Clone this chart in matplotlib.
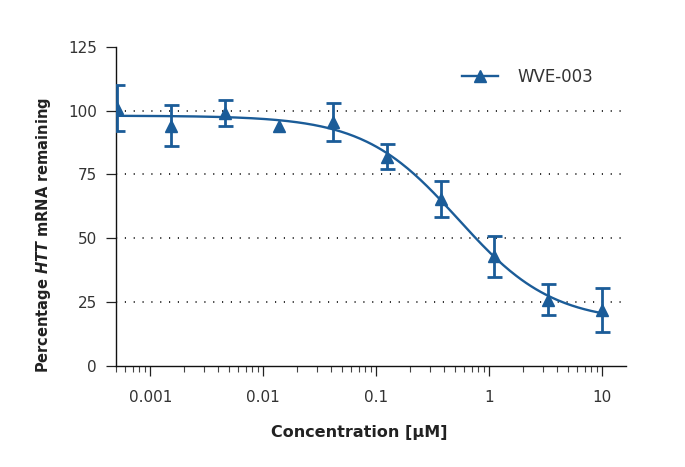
import numpy as np
import matplotlib
matplotlib.use("Agg")
import matplotlib.pyplot as plt
from matplotlib.lines import Line2D

plt.rcParams['font.family'] = ['DejaVu Sans']
plt.rcParams['mathtext.fontset'] = 'custom'
plt.rcParams['mathtext.it'] = 'DejaVu Sans:bold:italic'
plt.rcParams['mathtext.rm'] = 'DejaVu Sans:bold'
plt.rcParams['mathtext.bf'] = 'DejaVu Sans:bold'

# ---- data (3-fold dilution series, µM) ----
concentration = [10 / 3 ** k for k in range(10)][::-1]
pct_remaining = [101, 94, 99, 94, 95.5, 82, 65.5, 43, 26, 22]
err = [9, 8, 5, np.nan, 7.5, 5, 7, 8, 6, 8.5]

# 4-parameter logistic fit
fit_top = 98.0
fit_bottom = 17.0
fit_ic50 = 0.53
fit_hill = 1.04

series_label = "WVE-003"
xtick_vals = [0.001, 0.01, 0.1, 1, 10]
xtick_labels = ["0.001", "0.01", "0.1", "1", "10"]
ytick_vals = [0, 25, 50, 75, 100, 125]
grid_vals = [25, 50, 75, 100]

blue = "#1b5c98"
txt = "#333333"

fig = plt.figure(figsize=(6.85, 4.67), dpi=100)
ax = fig.add_axes([116.3 / 685, 1 - 366 / 467, 509.7 / 685, 319.3 / 467])

for g in grid_vals:
    ax.axhline(g, color="#111111", lw=1.2, ls=(0, (0.7, 4.6)), zorder=1)

ax.errorbar(concentration, pct_remaining, yerr=err, fmt="none", ecolor=blue,
            elinewidth=2.0, capsize=5.4, capthick=2.0, zorder=3)

xs = np.logspace(np.log10(concentration[0]), np.log10(concentration[-1]), 300)
ys = fit_bottom + (fit_top - fit_bottom) / (1 + (xs / fit_ic50) ** fit_hill)
ax.plot(xs, ys, color=blue, lw=1.7, zorder=4)
ax.plot(concentration, pct_remaining, ls="none", marker="^", ms=8.8,
        color=blue, zorder=5)

ax.set_xscale("log")
ax.set_xlim(0.0005, 16.2)
ax.set_ylim(0, 125)
ax.set_xticks(xtick_vals)
ax.set_xticklabels(xtick_labels)
ax.set_yticks(ytick_vals)

for s in ["top", "right"]:
    ax.spines[s].set_visible(False)
for s in ["left", "bottom"]:
    ax.spines[s].set_linewidth(1.0)
    ax.spines[s].set_color("#111111")

ax.tick_params(axis="both", which="major", length=7.5, width=0.9,
               color="#222222", labelsize=11, labelcolor=txt)
ax.tick_params(axis="x", which="major", pad=9.5)
ax.tick_params(axis="y", which="major", pad=6.5)
ax.tick_params(axis="x", which="minor", length=4.5, width=0.8, color="#444444")

ax.set_xlabel("Concentration [μM]", fontsize=11.5, fontweight="bold", color="#222222")
ax.xaxis.set_label_coords((359 - 116.3) / 509.7, -0.184)
ax.set_ylabel(r"Percentage $\mathit{HTT}$ mRNA remaining", fontsize=10.5,
              fontweight="bold", color="#222222")
ax.yaxis.set_label_coords(-0.125, (366 - 235) / 319.3)

handle = Line2D([], [], color=blue, lw=1.7, marker="^", ms=8.8)
fig.legend([handle], [series_label], loc="center left",
           bbox_to_anchor=(462 / 685, 1 - 77 / 467), frameon=False,
           borderpad=0, borderaxespad=0, handlelength=2.16,
           handletextpad=1.14, prop={"size": 12}, labelcolor=txt)

fig.savefig("out.png", dpi=100)
